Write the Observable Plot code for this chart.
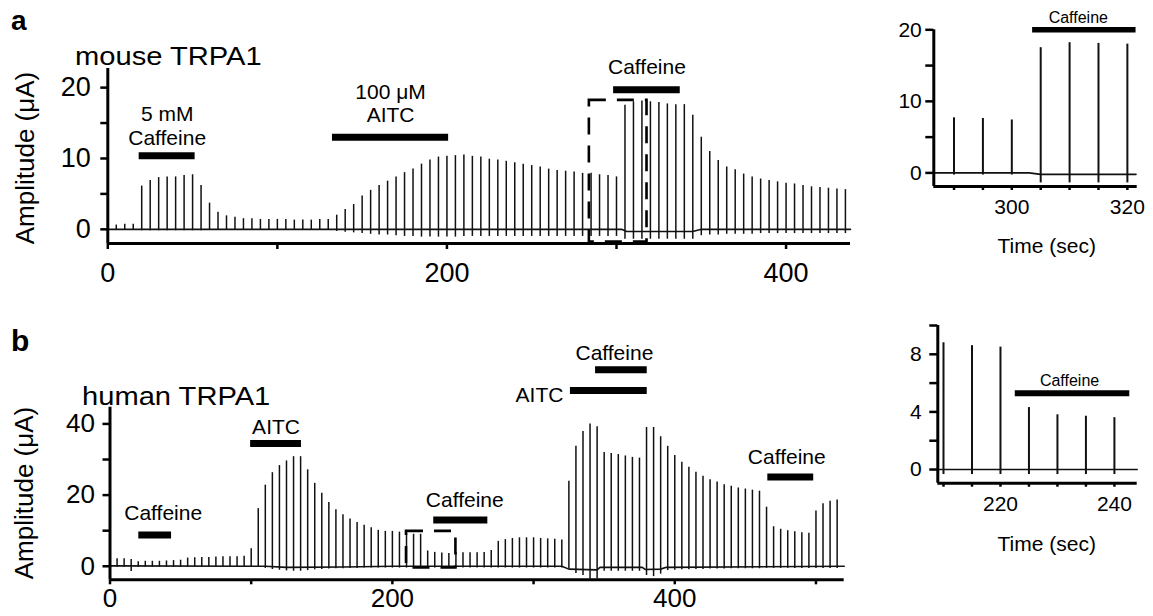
<!DOCTYPE html>
<html><head><meta charset="utf-8">
<script src="https://cdn.jsdelivr.net/npm/d3@7"></script>
<script src="https://cdn.jsdelivr.net/npm/@observablehq/plot@0.6"></script>
<style>
body{margin:0;background:#fff;}
#root{position:relative;width:1153px;height:616px;overflow:hidden;font-family:"Liberation Sans",Arial,Helvetica,sans-serif;color:#000;background:#fff;}
#root svg{position:absolute;}
.lbl{position:absolute;white-space:nowrap;line-height:1;z-index:5;}
</style></head><body><div id="root"></div>
<script>
// ---------------- DATA ----------------
// Panel a: mouse TRPA1 (time in s, peak and trough amplitude in µA)
const mouseTime = [5,10,15,20,25,30,35,40,45,50,55,60,65,70,75,80,85,90,95,100,105,110,115,120,125,130,135,140,145,150,155,160,165,170,175,180,185,190,195,200,205,210,215,220,225,230,235,240,245,250,255,260,265,270,275,280,285,290,295,300,305,310,315,320,325,330,335,340,345,350,355,360,365,370,375,380,385,390,395,400,405,410,415,420,425,430,435];
const mousePeak = [0.6,0.7,0.7,6.1,6.9,7.3,7.4,7.4,7.6,7.7,6.2,3.7,2.4,1.9,1.7,1.5,1.5,1.4,1.4,1.4,1.4,1.3,1.3,1.3,1.4,1.4,2.0,2.8,3.5,4.7,5.5,6.2,6.8,7.4,8.0,8.5,9.2,9.8,10.2,10.3,10.4,10.5,10.3,10.2,9.9,9.8,9.6,9.4,9.2,9.0,8.8,8.5,8.3,8.2,8.1,7.9,7.9,7.7,7.6,7.4,17.5,18.0,18.1,18.0,17.9,17.7,17.6,17.6,16.1,13.0,11.0,9.7,8.8,8.4,7.8,7.4,7.1,6.9,6.7,6.5,6.4,6.2,6.0,5.9,5.8,5.7,5.6];
const mouseTrough = [-0.1,-0.1,-0.1,-0.2,-0.2,-0.2,-0.2,-0.2,-0.2,-0.2,-0.2,-0.1,-0.1,-0.1,-0.1,-0.1,-0.1,-0.1,-0.1,-0.1,-0.1,-0.1,-0.1,-0.1,-0.1,-0.1,-0.3,-0.4,-0.5,-0.6,-0.7,-0.8,-0.8,-0.9,-1.0,-1.0,-1.1,-1.1,-1.1,-1.1,-1.1,-1.0,-1.0,-1.0,-1.0,-1.0,-1.0,-1.0,-1.0,-1.0,-1.0,-1.0,-1.0,-1.0,-1.0,-1.0,-1.0,-1.0,-1.0,-1.0,-1.4,-1.4,-1.4,-1.4,-1.4,-1.4,-1.4,-1.4,-1.4,-0.9,-0.8,-0.8,-0.7,-0.7,-0.7,-0.7,-0.6,-0.6,-0.6,-0.6,-0.6,-0.6,-0.6,-0.6,-0.6,-0.6,-0.6];
const mouseBaseTime = [0,303,306,345,350,438];
const mouseBaseValue = [0,0,-0.3,-0.3,0,0];
const mouseAnnStart = [18.5,132.5,298.3];
const mouseAnnEnd = [51.5,201,337.6];
const mouseAnnLevel = [10.4,13.0,19.7];
const mouseAnnLabel = ["5 mM\nCaffeine","100 μM\nAITC","Caffeine"];
const mouseBoxTime = [284,318];
const mouseBoxAmp = [-1.8,18.2];
const mouseXTicks = [0,100,200,300,400];
const mouseYTicks = [0,5,10,15,20];

// Inset a (zoom of 288–321 s)
const insetATime = [290,295,300,305,310,315,320];
const insetAPeak = [7.7,7.6,7.4,17.5,18.2,18.1,18.0];
const insetATrough = [-0.3,-0.3,-0.3,-1.4,-1.4,-1.4,-1.4];
const insetABaseTime = [286.5,303,305,321.5];
const insetABaseValue = [0,0,-0.2,-0.2];
const insetAAnnStart = [303.6];
const insetAAnnEnd = [321.5];
const insetAAnnLevel = [20];
const insetAAnnLabel = ["Caffeine"];
const insetAXTicks = [290,295,300,305,310,315,320];
const insetAYTicks = [0,5,10,15,20];

// Panel b: human TRPA1
const humanTime = [5,10,15,20,25,30,35,40,45,50,55,60,65,70,75,80,85,90,95,100,105,110,115,120,125,130,135,140,145,150,155,160,165,170,175,180,185,190,195,200,205,210,215,220,225,230,235,240,245,250,255,260,265,270,275,280,285,290,295,300,305,310,315,320,325,330,335,340,345,350,355,360,365,370,375,380,385,390,395,400,405,410,415,420,425,430,435,440,445,450,455,460,465,470,475,480,485,490,495,500,505,510,515];
const humanPeak = [2.1,2.1,1.9,1.3,1.4,1.4,1.4,1.5,1.6,1.7,2.3,2.4,2.5,2.5,2.6,2.7,2.7,2.7,2.8,4.9,16.2,22.8,26.3,28.3,29.6,30.8,30.8,27.1,23.3,20.5,17.9,15.9,14.5,13.3,12.3,11.5,10.8,10.1,9.8,9.8,9.6,9.2,9.0,9.0,4.3,3.9,3.7,3.6,3.9,3.8,3.8,3.8,3.9,4.4,7.0,7.5,7.8,8.0,8.0,8.0,7.8,7.7,7.6,7.4,23.9,33.7,37.9,40.0,39.2,32.0,31.7,31.4,31.0,30.6,30.4,39.0,39.0,36.4,33.7,31.1,29.2,27.8,26.4,25.3,24.3,23.7,22.9,22.5,22.0,21.7,21.4,21.1,16.6,11.1,10.4,10.0,9.7,9.4,9.3,15.5,17.6,18.3,18.6];
const humanTrough = [-0.3,-0.3,-1.5,-0.3,-0.3,-0.3,-0.3,-0.3,-0.3,-0.3,-0.3,-0.3,-0.3,-0.3,-0.3,-0.3,-0.3,-0.3,-0.3,-0.3,-0.3,-0.6,-0.9,-1.1,-1.3,-1.4,-1.4,-1.2,-1.0,-0.9,-0.8,-0.7,-0.7,-0.6,-0.6,-0.5,-0.5,-0.5,-0.5,-0.5,-0.5,-0.5,-0.5,-0.5,-0.5,-0.5,-0.5,-0.5,-0.5,-0.5,-0.5,-0.5,-0.5,-0.5,-0.5,-0.5,-0.5,-0.5,-0.5,-0.5,-0.5,-0.5,-0.5,-0.5,-0.8,-2.0,-2.6,-3.6,-3.6,-1.4,-1.4,-1.4,-1.4,-1.4,-1.4,-2.6,-2.9,-2.2,-1.2,-1.1,-1.0,-1.0,-0.9,-0.9,-0.8,-0.8,-0.8,-0.7,-0.7,-0.7,-0.7,-0.7,-0.6,-0.6,-0.6,-0.6,-0.6,-0.6,-0.6,-0.6,-0.6,-0.6,-0.6];
const humanBaseTime = [0,110,125,165,200,320,325,345,347,377,379,390,394,520];
const humanBaseValue = [0.1,0,-0.3,-0.2,0,0,-0.8,-1.0,-0.3,-0.3,-0.9,-0.8,-0.3,0];
const humanAnnStart = [20.4,99.6,229.3,326.1,343.9,465.9];
const humanAnnEnd = [43.6,135.6,267.6,380.5,380.5,498.4];
const humanAnnLevel = [8.8,34.5,13.0,49.4,55.2,25.1];
const humanAnnLabel = ["Caffeine","AITC","Caffeine","AITC","Caffeine","Caffeine"];
const humanBoxTime = [210,245];
const humanBoxAmp = [-0.5,9.8];
const humanXTicks = [0,100,200,300,400,500];
const humanYTicks = [0,10,20,30,40];

// Inset b (zoom of 209–244 s)
const insetBTime = [210,215,220,225,230,235,240];
const insetBPeak = [8.8,8.6,8.5,4.3,3.8,3.7,3.6];
const insetBTrough = [-0.35,-0.35,-0.35,-0.35,-0.35,-0.35,-0.35];
const insetBBaseTime = [209,244];
const insetBBaseValue = [0,0];
const insetBAnnStart = [222.6];
const insetBAnnEnd = [242.7];
const insetBAnnLevel = [5.3];
const insetBAnnLabel = ["Caffeine"];
const insetBXTicks = [210,215,220,225,230,235,240];
const insetBYTicks = [0,2,4,6,8,10];

// ---------------- BUILD ----------------
const FONT = '"Liberation Sans", Arial, Helvetica, sans-serif';
const zip = (t, a, b) => t.map((x, i) => ({t: x, hi: a[i], lo: b[i]}));
const line = (t, v) => t.map((x, i) => ({t: x, v: v[i]}));
const ann = (s, e, l, lab) => s.map((x, i) => ({start: x, end: e[i], level: l[i], label: lab[i]}));

function panel(cfg) {
  const {w, h, m, xDom, yDom, spikes, base, anns, labelOpts, box, xTicks, xLabel, yTicks, yLabel,
         fs, annFs, barW, spikeW, xTick, yTick} = cfg;
  const marks = [
    Plot.ruleX(spikes, {x: "t", y1: "lo", y2: "hi", stroke: "#111", strokeWidth: spikeW}),
    Plot.line(base, {x: "t", y: "v", stroke: "#111", strokeWidth: 1.6}),
    Plot.ruleY(anns, {x1: "start", x2: "end", y: "level", stroke: "#000", strokeWidth: barW}),
    ...anns.map((d, i) => {
      const o = labelOpts[i];
      return Plot.text([d], {
        x: o.side === "left" ? "start" : (a) => (a.start + a.end) / 2,
        y: "level", text: "label",
        textAnchor: o.side === "left" ? "end" : "middle",
        lineAnchor: o.side === "left" ? "middle" : "bottom",
        lineHeight: 1.12, dx: o.dx, dy: o.dy, fontSize: annFs, fill: "#000"
      });
    }),
    Plot.ruleY([yDom[0]], {stroke: "#000", strokeWidth: 3}),
    Plot.ruleX([xDom[0]], {stroke: "#000", strokeWidth: 3}),
    Plot.axisX({ticks: xTicks, tickFormat: xLabel, tickSize: xTick[0], tickPadding: xTick[1], fontSize: fs, strokeWidth: 2.5, label: null}),
    Plot.axisY({ticks: yTicks, tickFormat: yLabel, tickSize: yTick[0], tickPadding: yTick[1], fontSize: fs, strokeWidth: 2.5, label: null})
  ];
  if (box) marks.splice(2, 0, Plot.rect([box], {x1: "x1", x2: "x2", y1: "y1", y2: "y2", fill: "none", stroke: "#000", strokeWidth: 2.6, strokeDasharray: "17,11"}));
  return Plot.plot({
    width: w, height: h,
    marginLeft: m[0], marginRight: m[1], marginTop: m[2], marginBottom: m[3],
    x: {domain: xDom}, y: {domain: yDom},
    style: {fontFamily: FONT, background: "transparent", overflow: "visible", color: "#000"},
    marks
  });
}

const root = document.getElementById("root");
function place(svg, left, top) { svg.style.left = left + "px"; svg.style.top = top + "px"; root.appendChild(svg); }

place(panel({
  w: 860, h: 290, m: [107.3, 10, 68, 47], xDom: [0, 438], yDom: [-2, 22.7],
  spikes: zip(mouseTime, mousePeak, mouseTrough), base: line(mouseBaseTime, mouseBaseValue),
  anns: ann(mouseAnnStart, mouseAnnEnd, mouseAnnLevel, mouseAnnLabel),
  labelOpts: [{dx: 0, dy: -11}, {dx: 0, dy: -15}, {dx: 0, dy: -16}],
  box: {x1: mouseBoxTime[0], x2: mouseBoxTime[1], y1: mouseBoxAmp[0], y2: mouseBoxAmp[1]},
  xTicks: mouseXTicks, xLabel: d => d % 200 === 0 ? String(d) : "",
  yTicks: mouseYTicks, yLabel: d => d % 10 === 0 ? String(d) : "",
  fs: 27, annFs: 21, barW: 7, spikeW: 1.5, xTick: [6, 13], yTick: [7, 10]
}), 0, 0);

place(panel({
  w: 293, h: 290, m: [73.3, 16.3, 29.3, 104], xDom: [286.5, 321.7], yDom: [-1.9, 20],
  spikes: zip(insetATime, insetAPeak, insetATrough), base: line(insetABaseTime, insetABaseValue),
  anns: ann(insetAAnnStart, insetAAnnEnd, insetAAnnLevel, insetAAnnLabel),
  labelOpts: [{dx: -6, dy: -7}],
  xTicks: insetAXTicks, xLabel: d => d % 20 === 0 ? String(d) : "",
  yTicks: insetAYTicks, yLabel: d => d % 10 === 0 ? String(d) : "",
  fs: 21, annFs: 16, barW: 5.5, spikeW: 2, xTick: [4, 9], yTick: [8, 4]
}), 860, 0);

place(panel({
  w: 860, h: 326, m: [109.5, 16.3, 116.7, 36.7], xDom: [0, 520], yDom: [-3.8, 44.7],
  spikes: zip(humanTime, humanPeak, humanTrough), base: line(humanBaseTime, humanBaseValue),
  anns: ann(humanAnnStart, humanAnnEnd, humanAnnLevel, humanAnnLabel),
  labelOpts: [{dx: 8, dy: -15}, {dx: 0, dy: -9}, {dx: 4, dy: -13}, {side: "left", dx: -7, dy: 4}, {dx: -7, dy: -10}, {dx: -4, dy: -13}],
  box: {x1: humanBoxTime[0], x2: humanBoxTime[1], y1: humanBoxAmp[0], y2: humanBoxAmp[1]},
  xTicks: humanXTicks, xLabel: d => d % 200 === 0 ? String(d) : "",
  yTicks: humanYTicks, yLabel: d => d % 20 === 0 ? String(d) : "",
  fs: 26, annFs: 21, barW: 7, spikeW: 1.5, xTick: [5, 4], yTick: [7, 8]
}), 0, 290);

place(panel({
  w: 293, h: 326, m: [77.3, 16.3, 35, 133.3], xDom: [209, 244], yDom: [-0.95, 10],
  spikes: zip(insetBTime, insetBPeak, insetBTrough), base: line(insetBBaseTime, insetBBaseValue),
  anns: ann(insetBAnnStart, insetBAnnEnd, insetBAnnLevel, insetBAnnLabel),
  labelOpts: [{dx: -3, dy: -7}],
  xTicks: insetBXTicks, xLabel: d => d % 20 === 0 ? String(d) : "",
  yTicks: insetBYTicks, yLabel: d => d % 4 === 0 ? String(d) : "",
  fs: 21, annFs: 16, barW: 6, spikeW: 2, xTick: [4, 9], yTick: [8, 8]
}), 860, 290);

// ---------------- TEXT LABELS ----------------
function label(text, css) {
  const d = document.createElement("div");
  d.className = "lbl";
  d.textContent = text;
  Object.assign(d.style, css);
  root.appendChild(d);
}
label("a", {left: "11px", top: "7px", fontSize: "28px", fontWeight: "bold"});
label("b", {left: "11px", top: "326px", fontSize: "30px", fontWeight: "bold"});
label("mouse TRPA1", {left: "75px", top: "43px", fontSize: "26px", transform: "scaleX(1.12)", transformOrigin: "left center"});
label("human TRPA1", {left: "81.5px", top: "383px", fontSize: "26px", transform: "scaleX(1.12)", transformOrigin: "left center"});
label("Amplitude (μA)", {left: "25px", top: "157.5px", fontSize: "26px", transform: "translate(-50%,-50%) rotate(-90deg)"});
label("Amplitude (μA)", {left: "23.5px", top: "493px", fontSize: "26px", transform: "translate(-50%,-50%) rotate(-90deg)"});
label("Time (sec)", {left: "1046.7px", top: "245px", fontSize: "21px", transform: "translate(-50%,-50%)"});
label("Time (sec)", {left: "1046.7px", top: "543.3px", fontSize: "21px", transform: "translate(-50%,-50%)"});
</script>
</body></html>
